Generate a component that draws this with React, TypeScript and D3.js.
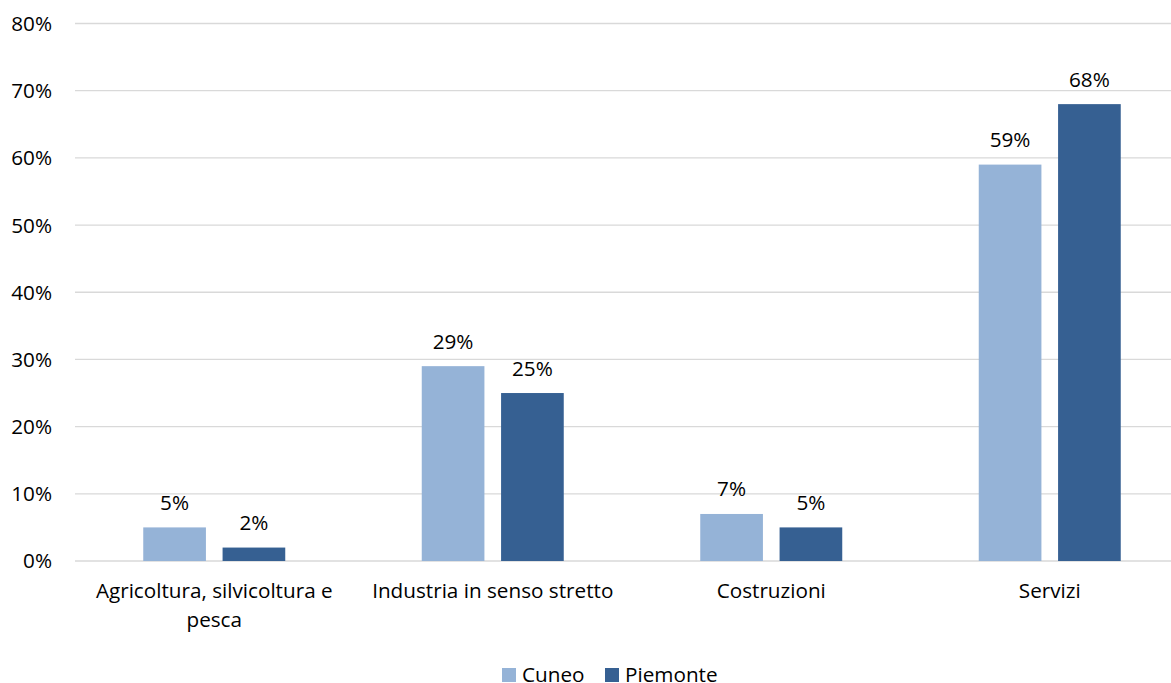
import React from "react";
import * as d3 from "d3";

const categories = [
  ["Agricoltura, silvicoltura e", "pesca"],
  ["Industria in senso stretto"],
  ["Costruzioni"],
  ["Servizi"],
];
const seriesNames = ["Cuneo", "Piemonte"];
const cuneo = [5, 29, 7, 59];
const piemonte = [2, 25, 5, 68];
const yTicks = [0, 10, 20, 30, 40, 50, 60, 70, 80];
const colors = ["#95B3D7", "#366092"];

const W = 1171;
const H = 683;
const FONT = "'Open Sans', sans-serif";
const FS = 20.7;

export default function App() {
  const left = 75;
  const right = 1189;
  const top = 23.5;
  const bottom = 561;
  const x0 = d3
    .scaleBand<number>()
    .domain(d3.range(categories.length))
    .range([left, right])
    .padding(0);
  const groupW = 142;
  const x1 = d3
    .scaleBand<string>()
    .domain(seriesNames)
    .range([0, groupW])
    .paddingInner(0.21);
  const y = d3.scaleLinear().domain([0, 80]).range([bottom, top]);
  const data = [cuneo, piemonte];
  const legendX = [502, 605];

  return (
    <svg
      width={W}
      height={H}
      style={{ position: "absolute", left: 0, top: 0, background: "#fff" }}
      fontFamily={FONT}
    >
      {yTicks.map((t) => (
        <g key={t}>
          <line x1={left} x2={W} y1={y(t)} y2={y(t)} stroke="#D9D9D9" strokeWidth={1.3} />
          <text x={52} y={y(t)} dy="0.36em" textAnchor="end" fontSize={FS} fill="#000">
            {t}%
          </text>
        </g>
      ))}
      {categories.map((cat, i) => {
        const gx = x0(i)! + x0.bandwidth() / 2 - groupW / 2;
        return (
          <g key={i}>
            {data.map((vals, s) => {
              const bx = gx + x1(seriesNames[s])!;
              const bw = x1.bandwidth();
              return (
                <g key={s}>
                  <rect x={bx} y={y(vals[i])} width={bw} height={y(0) - y(vals[i])} fill={colors[s]} />
                  <text x={bx + bw / 2} y={y(vals[i]) - 17.5} textAnchor="middle" fontSize={FS} fill="#000">
                    {vals[i]}%
                  </text>
                </g>
              );
            })}
            {cat.map((line, k) => (
              <text
                key={k}
                x={x0(i)! + x0.bandwidth() / 2}
                y={598 + k * 29}
                textAnchor="middle"
                fontSize={FS}
                fill="#000"
              >
                {line}
              </text>
            ))}
          </g>
        );
      })}
      <g>
        {seriesNames.map((name, s) => (
          <g key={name}>
            <rect x={legendX[s]} y={668} width={14} height={14} fill={colors[s]} />
            <text x={legendX[s] + 20} y={682} fontSize={FS} fill="#000">{name}</text>
          </g>
        ))}
      </g>
    </svg>
  );
}
